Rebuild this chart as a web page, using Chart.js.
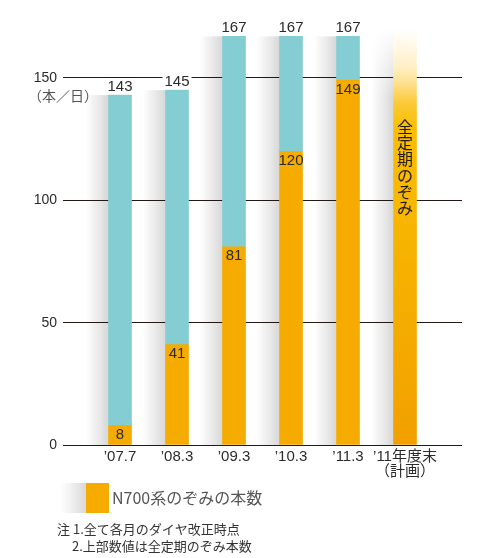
<!DOCTYPE html>
<html>
<head>
<meta charset="utf-8">
<script src="https://cdn.jsdelivr.net/npm/chart.js@4"></script>
<style>
  body { margin: 0; background: #fff; }
  #wrap { width: 477px; height: 558px; }
</style>
</head>
<body>
<div id="wrap"><canvas id="chart"></canvas></div>
<script>
// data (empty slots at both ends pad the axis)
const labels = ['', '’07.7', '’08.3', '’09.3', '’10.3', '’11.3', ['’11年度末', '（計画）'], ''];
const n700 = [null, 8, 41, 81, 120, 149, null, null];
const others = [null, 135, 104, 86, 47, 18, null, null];
const totals = [null, 143, 145, 167, 167, 167, null, null];
const planned = [null, null, null, null, null, null, 170, null];
const plannedText = '全定期のぞみ';
const yTicks = [0, 50, 100, 150];
const unitText = '（本／日）';
const legendText = 'N700系のぞみの本数';
const notes = ['注 1.全て各月のダイヤ改正時点', '2.上部数値は全定期のぞみ本数'];

const FONT = '"Liberation Sans", "Noto Sans CJK JP", sans-serif';
const JP = '"Noto Sans CJK JP", sans-serif';
const ORANGE = '#f5ab00';
const TEAL = '#84cdd2';
const INK = '#2b2b2b';

function plannedFill(ctx) {
    const a = ctx.chart.chartArea;
    if (!a) return ORANGE;
    const g = ctx.chart.ctx.createLinearGradient(0, a.top, 0, a.bottom);
    g.addColorStop(0, '#ffffff');
    g.addColorStop(0.09, '#fff0c8');
    g.addColorStop(0.13, '#fde08f');
    g.addColorStop(0.18, '#fbc935');
    g.addColorStop(0.24, '#f9be00');
    g.addColorStop(0.6, '#f6b000');
    g.addColorStop(1, '#f2a000');
    return g;
}

// grey shading on the left side of every bar, drawn under the grid lines
const shadows = {
    id: 'shadows',
    beforeDraw(chart) {
        const c = chart.ctx;
        const y = chart.scales.y;
        const base = y.getPixelForValue(0);
        const meta = chart.getDatasetMeta(0);
        c.save();
        for (let i = 1; i <= 6; i++) {
            const bar = meta.data[i];
            const v = totals[i] != null ? totals[i] : planned[i];
            const top = y.getPixelForValue(v);
            const right = bar.x - 11.5;
            const left = right - 23;
            const g = c.createLinearGradient(left, 0, right, 0);
            g.addColorStop(0, 'rgba(220,220,220,0)');
            g.addColorStop(1, 'rgba(215,215,215,1)');
            c.fillStyle = g;
            c.fillRect(left, top, right - left, base - top);
            if (planned[i] != null) {
                const f = c.createLinearGradient(0, top, 0, top + 70);
                f.addColorStop(0, 'rgba(255,255,255,1)');
                f.addColorStop(1, 'rgba(255,255,255,0)');
                c.fillStyle = f;
                c.fillRect(left, top, right - left, 70);
            }
        }
        c.restore();
    }
};

const extras = {
    id: 'extras',
    afterDatasetsDraw(chart) {
        const c = chart.ctx;
        const y = chart.scales.y;
        const meta = chart.getDatasetMeta(0);
        c.save();
        c.font = '15px ' + FONT;
        c.textAlign = 'center';
        c.textBaseline = 'middle';
        for (let i = 1; i <= 5; i++) {
            const x = meta.data[i].x;
            // total above the bar, on a white patch
            const ty = y.getPixelForValue(totals[i]) - 8;
            const w = c.measureText(String(totals[i])).width;
            c.fillStyle = '#fff';
            c.fillRect(x - w / 2 - 2, ty - 7, w + 4, 14);
            c.fillStyle = INK;
            c.fillText(String(totals[i]), x, ty);
            // N700 value under the top of the orange part
            c.fillText(String(n700[i]), x, y.getPixelForValue(n700[i]) + 9.5);
        }
        // vertical caption on the planned bar
        const pm = chart.getDatasetMeta(2).data[6];
        c.font = '16px ' + JP;
        c.fillStyle = '#231815';
        [...plannedText].forEach((ch, k) => {
            c.fillText(ch, pm.x, y.getPixelForValue(130) + k * 16.2);
        });
        // unit below the 150 tick
        c.font = '14px ' + JP;
        c.fillStyle = '#555';
        c.textAlign = 'left';
        c.fillText(unitText, 28, 96);
        c.restore();
    },
    afterDraw(chart) {
        const c = chart.ctx;
        c.save();
        const g = c.createLinearGradient(60, 0, 86, 0);
        g.addColorStop(0, 'rgba(225,225,225,0)');
        g.addColorStop(1, 'rgba(215,215,215,1)');
        c.fillStyle = g;
        c.fillRect(60, 483, 26, 30);
        c.fillStyle = ORANGE;
        c.fillRect(86, 483, 23, 30);
        c.font = '16px ' + JP;
        c.fillStyle = '#555';
        c.textAlign = 'left';
        c.textBaseline = 'middle';
        c.fillText(legendText, 112, 498);
        c.font = '13px ' + JP;
        c.fillStyle = '#333';
        c.fillText(notes[0], 57, 529);
        c.fillText(notes[1], 72, 546);
        c.restore();
    }
};

new Chart(document.getElementById('chart'), {
    type: 'bar',
    data: {
        labels: labels,
        datasets: [
            { label: 'N700', data: n700, backgroundColor: ORANGE, stack: 's' },
            { label: 'others', data: others, backgroundColor: TEAL, stack: 's' },
            { label: 'planned', data: planned, backgroundColor: plannedFill, stack: 's' }
        ]
    },
    options: {
        responsive: true,
        maintainAspectRatio: false,
        animation: false,
        layout: { padding: { top: 29, right: 15, bottom: 0, left: 0 } },
        datasets: { bar: { barThickness: 23, borderWidth: 0 } },
        scales: {
            x: {
                stacked: true,
                offset: false,
                grid: { display: false, drawTicks: false },
                border: { display: false },
                ticks: {
                    color: INK,
                    padding: 4,
                    maxRotation: 0,
                    autoSkip: false,
                    font: { family: FONT, size: 15, lineHeight: 1.0 }
                },
                afterFit(scale) { scale.height = 113; }
            },
            y: {
                stacked: true,
                min: 0,
                max: 170,
                afterBuildTicks(scale) {
                    scale.ticks = yTicks.map(v => ({ value: v }));
                },
                grid: { color: '#231815', lineWidth: 1, drawTicks: false },
                border: { display: false },
                ticks: {
                    color: INK,
                    padding: 6,
                    font: { family: FONT, size: 14 }
                },
                afterFit(scale) { scale.width = 63; }
            }
        },
        plugins: {
            legend: { display: false },
            tooltip: { enabled: false }
        }
    },
    plugins: [shadows, extras]
});
</script>
</body>
</html>
